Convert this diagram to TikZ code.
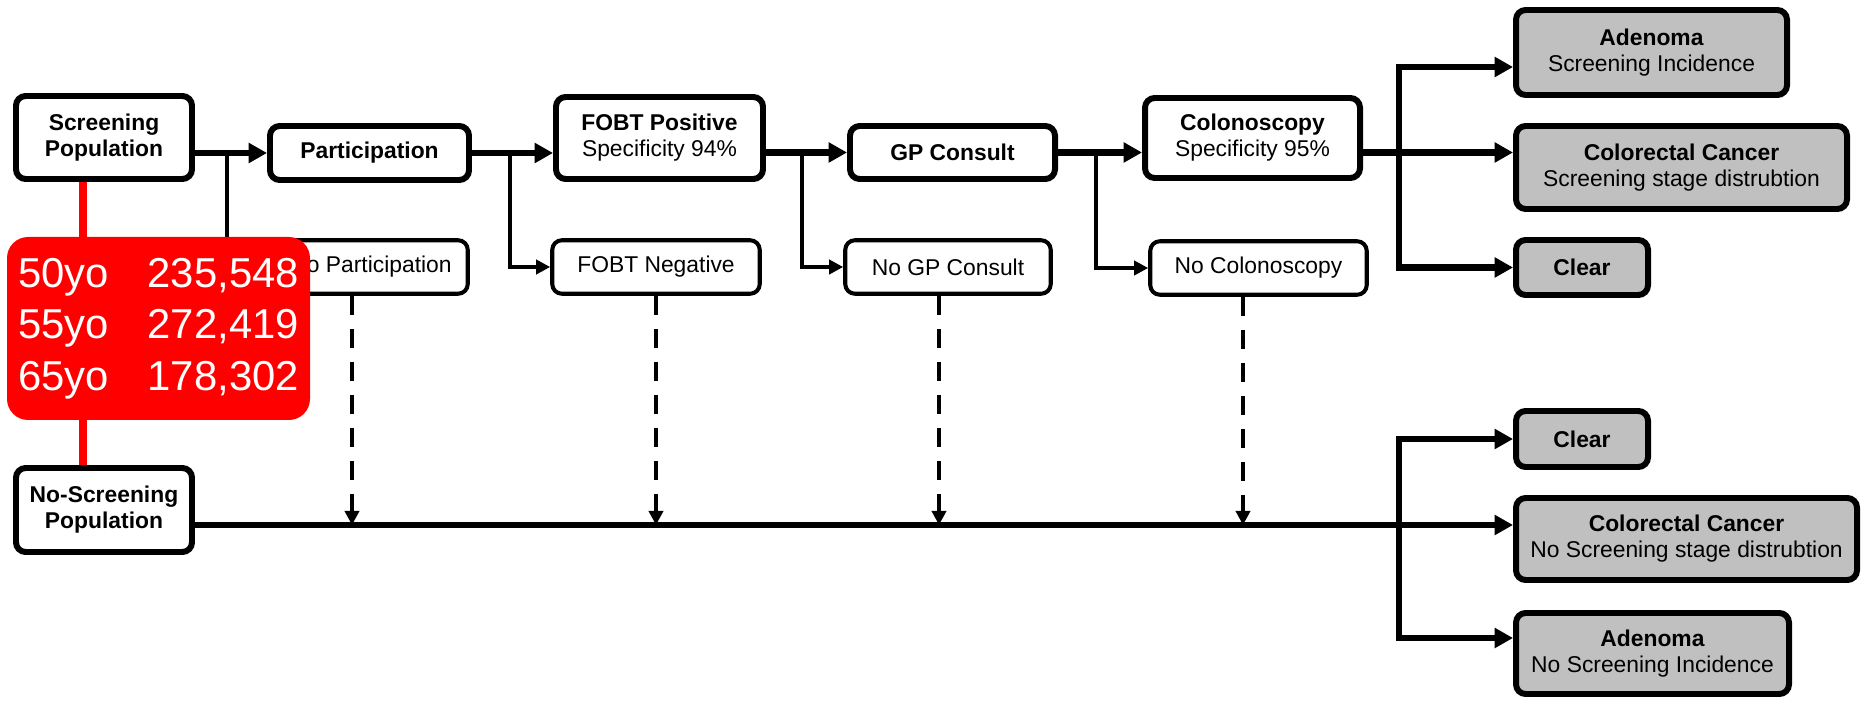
\documentclass[tikz,border=0pt]{standalone}
\usepackage{fontspec}
\setmainfont{Liberation Sans}
\usepackage{xcolor}
\usepackage{tikz}
\usetikzlibrary{arrows.meta,calc,positioning}
\definecolor{outgrey}{RGB}{192,192,192}

\begin{document}
\begin{tikzpicture}[
    font=\fontsize{13}{14.8}\selectfont,
    mainbox/.style={draw, line width=3.4pt, rounded corners=5.5pt, align=center, inner sep=0pt},
    subbox/.style={draw, line width=2.3pt, rounded corners=5.5pt, align=center, inner sep=0pt, minimum height=1.07cm},
    outbox/.style={mainbox, fill=outgrey},
    mainarrow/.style={line width=3.8pt, -{Triangle[length=10.5pt,width=11pt]}},
    sidearrow/.style={line width=2.5pt, -{Triangle[length=8pt,width=8pt]}},
    droparrow/.style={line width=2.2pt, dash pattern=on 10.8pt off 8pt, -{Triangle[length=8pt,width=8pt]}},
    popline/.style={red, line width=4.5pt}
]
    \useasboundingbox (0,0) rectangle (37.24,14);

    % Populations
    \node[mainbox, minimum width=3.52cm, minimum height=1.66cm] (scrpop) at (2.08,11.25) {\textbf{Screening}\\\textbf{Population}};
    \node[mainbox, minimum width=3.52cm, minimum height=1.68cm] (noscrpop) at (2.08,3.80) {\textbf{No-Screening}\\\textbf{Population}};

    % Screening pathway
    \node[mainbox, minimum width=3.98cm, minimum height=1.08cm] (part) at (7.39,10.94) {\textbf{Participation}};
    \node[mainbox, minimum width=4.14cm, minimum height=1.64cm] (fobtpos) at (13.19,11.24) {\textbf{FOBT Positive}\\Specificity 94\%};
    \node[mainbox, minimum width=4.10cm, minimum height=1.06cm] (gp) at (19.05,10.95) {\textbf{GP Consult}};
    \node[mainbox, minimum width=4.30cm, minimum height=1.60cm] (colon) at (25.05,11.24) {\textbf{Colonoscopy}\\Specificity 95\%};

    % Drop-outs
    \node[subbox, minimum width=3.87cm] (nopart) at (7.42,8.66) {No Participation};
    \node[subbox, minimum width=4.15cm] (fobtneg) at (13.12,8.66) {FOBT Negative};
    \node[subbox, minimum width=4.11cm] (nogp) at (18.96,8.66) {No GP Consult};
    \node[subbox, minimum width=4.33cm] (nocolon) at (25.17,8.64) {No Colonoscopy};

    % Outcomes
    \node[outbox, minimum width=5.42cm, minimum height=1.70cm] (adscr) at (33.03,12.95) {\textbf{Adenoma}\\Screening Incidence};
    \node[outbox, minimum width=6.62cm, minimum height=1.66cm] (ccscr) at (33.63,10.65) {\textbf{Colorectal Cancer}\\Screening stage distrubtion};
    \node[outbox, minimum width=2.64cm, minimum height=1.10cm] (clrscr) at (31.64,8.65) {\textbf{Clear}};
    \node[outbox, minimum width=2.64cm, minimum height=1.12cm] (clrno) at (31.64,5.22) {\textbf{Clear}};
    \node[outbox, minimum width=6.82cm, minimum height=1.64cm] (ccno) at (33.73,3.22) {\textbf{Colorectal Cancer}\\No Screening stage distrubtion};
    \node[outbox, minimum width=5.46cm, minimum height=1.62cm] (adno) at (33.05,0.93) {\textbf{Adenoma}\\No Screening Incidence};

    % Branch points
    \coordinate (brpart) at (4.54,10.94);
    \coordinate (brfobt) at (10.20,10.94);
    \coordinate (brgp) at (16.04,10.94);
    \coordinate (brcolon) at (21.92,10.94);
    \coordinate (fanscr) at (27.98,10.94);
    \coordinate (noline) at ([yshift=-0.3cm]noscrpop.east);
    \coordinate (fanno) at (27.98,3.50);

    % Main screening line
    \draw[mainarrow] (scrpop.east |- part) -- (part.west);
    \draw[mainarrow] (part.east) -- (fobtpos.west |- part.east);
    \draw[mainarrow] (fobtpos.east |- gp) -- (gp.west);
    \draw[mainarrow] (gp.east) -- (colon.west |- gp.east);
    \draw[mainarrow] (colon.east |- gp.east) -- (ccscr.west |- gp.east);

    % Side branches
    \foreach \src/\dst in {brpart/nopart, brfobt/fobtneg, brgp/nogp, brcolon/nocolon} {
        \draw[sidearrow] (\src) |- (\dst.west);
    }

    % Screening outcomes
    \draw[mainarrow] (fanscr) |- ([yshift=-0.29cm]adscr.west);
    \draw[mainarrow] (fanscr) |- (clrscr.west);

    % No-screening line
    \draw[mainarrow] (noline) -- ([yshift=0.28cm]ccno.west);
    \draw[mainarrow] (fanno) |- (clrno.west);
    \draw[mainarrow] (fanno) |- ([yshift=0.31cm]adno.west);

    % Drop-outs rejoin
    \foreach \nd/\dx in {nopart/-0.38, fobtneg/0, nogp/-0.18, nocolon/-0.31} {
        \draw[droparrow] ([xshift=\dx cm]\nd.south) -- ([xshift=\dx cm]\nd.south |- noline);
    }

    % Population counts
    \draw[popline] ([xshift=-0.42cm]scrpop.south) -- ([xshift=-0.42cm]noscrpop.north);
    \node[fill=red, rounded corners=12pt, minimum width=6.06cm, minimum height=3.66cm, text=white,
          font=\fontsize{23.8}{29.5}\selectfont] (popcount) at (3.17,7.43)
        {\begin{tabular}{@{}l@{\hspace{0.78cm}}r@{}}50yo & 235,548\\55yo & 272,419\\65yo & 178,302\end{tabular}};
\end{tikzpicture}
\end{document}
